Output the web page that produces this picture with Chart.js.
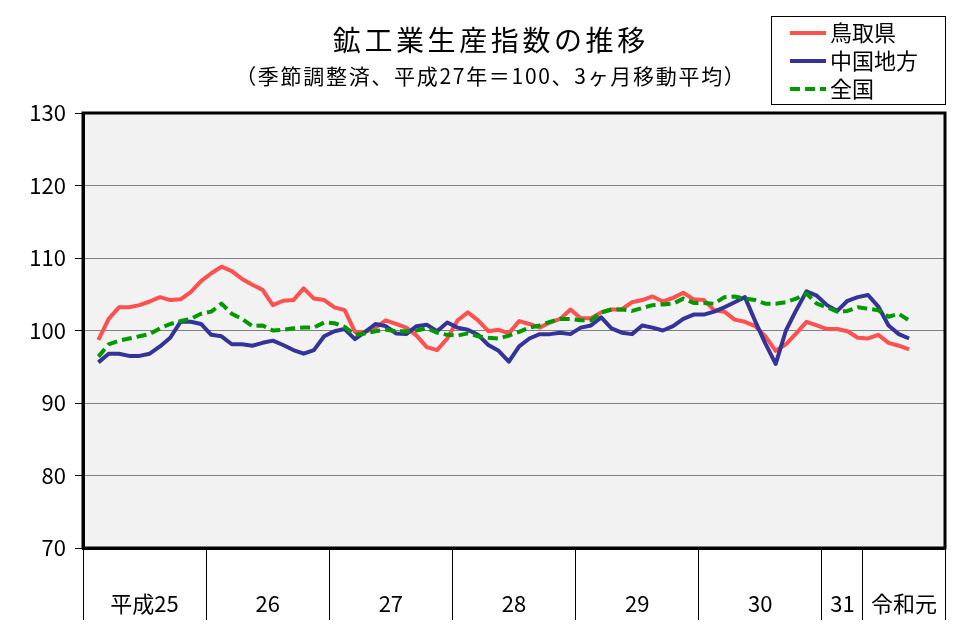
<!DOCTYPE html>
<html><head><meta charset="utf-8">
<script src="https://cdn.jsdelivr.net/npm/chart.js@4.4.0/dist/chart.umd.min.js"></script>
<style>html,body{margin:0;padding:0;background:#fff;}#wrap{width:977px;height:639px;position:relative;}</style>
</head><body><div id="wrap"><canvas id="c"></canvas></div>
<script>
const FONT = '"Noto Sans CJK JP", "Noto Sans", sans-serif';
const titleText = '鉱工業生産指数の推移';
const subtitleText = '（季節調整済、平成27年＝100、3ヶ月移動平均）';
const yearLabels = ['平成25', '26', '27', '28', '29', '30', '31', '令和元'];
const yearMonths = [12, 12, 12, 12, 12, 12, 4, 8];
const yearFirstMonth = [1, 1, 1, 1, 1, 1, 1, 5];
const yTicks = [70, 80, 90, 100, 110, 120, 130];
const seriesNames = ['鳥取県', '中国地方', '全国'];

// monthly values, H25.1 ... R1.12 (84 months); null where not plotted
const tottori = [null,
  98.7, 101.6, 103.2, 103.2, 103.5, 104.0, 104.6, 104.2, 104.3, 105.3, 106.8,
  107.9, 108.8, 108.2, 107.1, 106.3, 105.6, 103.5, 104.1, 104.2, 105.8, 104.4, 104.2,
  103.2, 102.8, 99.8, 99.8, 100.4, 101.4, 100.9, 100.4, 99.3, 97.7, 97.3, 98.9,
  101.4, 102.5, 101.4, 99.9, 100.1, 99.6, 101.3, 100.9, 100.4, 101.1, 101.6, 102.9,
  101.7, 101.7, 102.5, 102.9, 102.9, 103.9, 104.2, 104.7, 104.0, 104.5, 105.2, 104.3,
  104.2, 102.8, 102.6, 101.5, 101.2, 100.6, 99.2, 97.2, 98.1, 99.6, 101.2, 100.7,
  100.2, 100.2, 99.9, 99.0, 98.9, 99.4, 98.3, 97.9, 97.4,
  null, null, null];
const chugoku = [null,
  95.6, 96.8, 96.8, 96.5, 96.5, 96.8, 97.8, 99.0, 101.2, 101.2, 100.9,
  99.4, 99.2, 98.1, 98.1, 97.9, 98.3, 98.6, 98.0, 97.3, 96.8, 97.3, 99.2,
  99.9, 100.2, 98.8, 99.8, 100.9, 100.6, 99.6, 99.5, 100.6, 100.8, 99.9, 101.1,
  100.4, 100.1, 99.4, 98.0, 97.2, 95.7, 97.8, 98.9, 99.5, 99.5, 99.7, 99.5,
  100.4, 100.7, 101.8, 100.3, 99.7, 99.5, 100.7, 100.4, 100.0, 100.6, 101.6, 102.2,
  102.2, 102.6, 103.2, 103.9, 104.6, 101.3, 98.2, 95.4, 100.0, 102.8, 105.4, 104.8,
  103.5, 102.7, 104.1, 104.6, 104.9, 103.3, 100.7, 99.5, 98.9,
  null, null, null];
const zenkoku = [null,
  96.4, 98.1, 98.6, 98.9, 99.2, 99.5, 100.3, 100.9, 101.3, 101.6, 102.3,
  102.6, 103.7, 102.3, 101.6, 100.6, 100.7, 100.0, 100.1, 100.3, 100.4, 100.4, 101.1,
  101.0, 100.5, 99.4, 99.6, 99.9, 100.1, 99.9, 99.9, 100.0, 100.3, 99.7, 99.4,
  99.3, 99.6, 99.2, 99.0, 98.9, 99.3, 99.8, 100.4, 100.7, 101.2, 101.6, 101.6,
  101.4, 101.4, 102.5, 102.9, 102.9, 102.7, 103.1, 103.5, 103.6, 103.7, 104.4, 103.8,
  103.8, 103.7, 104.6, 104.7, 104.4, 104.2, 103.7, 103.7, 103.9, 104.4, 105.1, 103.7,
  103.2, 102.6, 102.7, 103.2, 103.0, 102.8, 101.9, 102.3, 101.4,
  null, null, null];

// categories (one per month) and year grouping
const months = [];
const boundaryIdx = new Set();
const labelAt = {};
yearLabels.forEach((y, k) => {
  const start = months.length;
  boundaryIdx.add(start);
  for (let m = 0; m < yearMonths[k]; m++) months.push(y + '年' + (yearFirstMonth[k] + m) + '月');
  labelAt[start + yearMonths[k] / 2 - 1] = y;
});

const CW = 977, PLOT_LEFT = 83, PLOT_RIGHT_PAD = 32, PLOT_TOP = 113;
const halfCat = (CW - PLOT_LEFT - PLOT_RIGHT_PAD) / months.length / 2;

function spacedText(ctx, text, cx, cy, spacing) {
  ctx.letterSpacing = spacing + 'px';
  const w = ctx.measureText(text).width - spacing;
  ctx.textAlign = 'left';
  ctx.fillText(text, cx - w / 2, cy);
  ctx.letterSpacing = '0px';
}

const plotFrame = {
  id: 'plotFrame',
  beforeDraw(chart) {
    const {ctx, chartArea: a} = chart;
    ctx.save();
    ctx.fillStyle = '#fff';
    ctx.fillRect(0, 0, chart.width, chart.height);
    ctx.fillStyle = '#f2f2f2';
    ctx.fillRect(a.left, a.top, a.right - a.left, a.bottom - a.top);
    ctx.restore();
  },
  afterDraw(chart) {
    const {ctx, chartArea: a} = chart;
    ctx.save();
    ctx.strokeStyle = '#000';
    ctx.lineWidth = 3;
    ctx.strokeRect(a.left, a.top, a.right - a.left, a.bottom - a.top);
    // titles
    ctx.fillStyle = '#000';
    ctx.textBaseline = 'middle';
    ctx.font = '28px ' + FONT;
    spacedText(ctx, titleText, 489, 40, 3.6);
    ctx.font = '21px ' + FONT;
    spacedText(ctx, subtitleText, 490, 76, 1.7);
    ctx.restore();
  }
};

const boxLegend = {
  id: 'boxLegend',
  afterDraw(chart) {
    const ctx = chart.ctx;
    const bx = 771, by = 16, bw = 174, bh = 88;
    ctx.save();
    ctx.fillStyle = '#fff';
    ctx.fillRect(bx, by, bw, bh);
    ctx.strokeStyle = '#000';
    ctx.lineWidth = 1;
    ctx.strokeRect(bx + 0.5, by + 0.5, bw, bh);
    const rowY = [33, 61, 89];
    chart.data.datasets.forEach((ds, i) => {
      const y = rowY[i];
      ctx.beginPath();
      ctx.setLineDash(ds.borderDash || []);
      ctx.strokeStyle = ds.borderColor;
      ctx.lineWidth = ds.borderWidth;
      ctx.moveTo(790, y);
      ctx.lineTo(826, y);
      ctx.stroke();
      ctx.setLineDash([]);
      ctx.fillStyle = '#000';
      ctx.font = '22px ' + FONT;
      ctx.textBaseline = 'middle';
      ctx.textAlign = 'left';
      ctx.fillText(ds.label, 830, y);
    });
    ctx.restore();
  }
};

new Chart(document.getElementById('c'), {
  type: 'line',
  data: {
    labels: months,
    datasets: [
      {label: seriesNames[0], data: tottori, borderColor: '#ff5050', borderWidth: 4, order: 2},
      {label: seriesNames[1], data: chugoku, borderColor: '#333399', borderWidth: 4, order: 1},
      {label: seriesNames[2], data: zenkoku, borderColor: '#009900', borderWidth: 4, borderDash: [10, 5], order: 0}
    ]
  },
  options: {
    responsive: true,
    maintainAspectRatio: false,
    animation: false,
    spanGaps: false,
    elements: {point: {radius: 0, hoverRadius: 0}, line: {tension: 0, fill: false, borderCapStyle: 'butt', borderJoinStyle: 'round'}},
    layout: {padding: {left: 0, right: PLOT_RIGHT_PAD, top: PLOT_TOP, bottom: 0}},
    plugins: {
      legend: {display: false},
      tooltip: {enabled: false},
      title: {display: false},
      subtitle: {display: false}
    },
    scales: {
      x: {
        type: 'category',
        offset: true,
        grid: {
          offset: true, drawOnChartArea: false, drawTicks: true, tickLength: 72, lineWidth: 1,
          color: ctx => (ctx.type !== 'tick' || boundaryIdx.has(ctx.index)) ? '#000' : 'rgba(0,0,0,0)'
        },
        border: {display: true, color: '#000', width: 3},
        ticks: {
          autoSkip: false, maxRotation: 0, minRotation: 0, padding: -30, labelOffset: halfCat,
          color: '#000', font: {family: FONT, size: 22},
          callback: (v, i) => labelAt[i] || ''
        },
        afterFit: s => { s.height = 91; }
      },
      y: {
        min: 70, max: 130,
        afterBuildTicks: s => { s.ticks = yTicks.map(v => ({value: v})); },
        grid: {color: '#808080', lineWidth: 1, tickColor: '#000', tickLength: 8},
        border: {display: true, color: '#000', width: 3},
        ticks: {padding: 9, color: '#000', font: {family: FONT, size: 22}},
        afterFit: s => { s.width = PLOT_LEFT; }
      }
    }
  },
  plugins: [plotFrame, boxLegend]
});
</script>
</body></html>
